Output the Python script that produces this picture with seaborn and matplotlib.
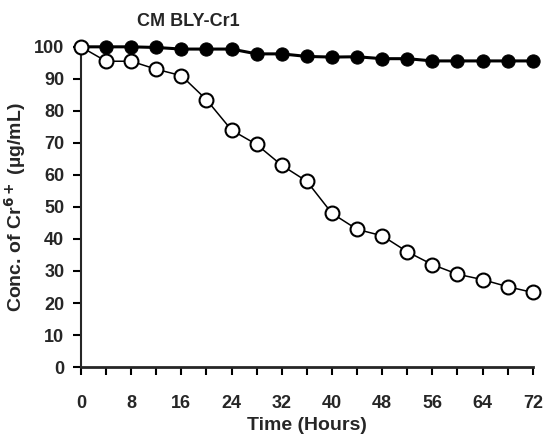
import matplotlib
matplotlib.use("Agg")
import matplotlib.pyplot as plt
from matplotlib.ticker import MultipleLocator
import seaborn as sns
import pandas as pd

# data
hours = [0, 4, 8, 12, 16, 20, 24, 28, 32, 36, 40, 44, 48, 52, 56, 60, 64, 68, 72]
control = [100, 100, 100, 99.8, 99.3, 99.3, 99.3, 97.8, 97.8, 97.0, 96.8, 96.9, 96.3, 96.3,
           95.6, 95.6, 95.6, 95.6, 95.6]
treated = [100, 95.5, 95.5, 93, 91, 83.5, 74, 69.5, 63, 58, 48, 43, 41, 36, 32, 29, 27.3,
           25.1, 23.3]
x_labels = ["0", "8", "16", "24", "32", "40", "48", "56", "64", "72"]

df = pd.DataFrame({"Hours": hours, "control": control, "treated": treated})

sns.set_style("ticks")
plt.rcParams["font.family"] = ["Liberation Sans", "DejaVu Sans"]
plt.rcParams["font.weight"] = "bold"

fig = plt.figure(figsize=(5.47, 4.46), dpi=100)
ax = fig.add_axes([0.148, 0.177, 0.826, 0.718])

sns.lineplot(data=df, x="Hours", y="control", ax=ax, color="black", linewidth=2.2,
             marker="o", markersize=9.5, markerfacecolor="black", markeredgecolor="black",
             clip_on=False, zorder=3)
sns.lineplot(data=df, x="Hours", y="treated", ax=ax, color="black", linewidth=1.1,
             marker="o", markersize=10, markerfacecolor="white", markeredgecolor="black",
             markeredgewidth=1.5, clip_on=False, zorder=4)

ax.set_xlim(0, 72)
ax.set_ylim(0, 100)
ax.set_xticks(range(0, 73, 8))
ax.set_xticklabels(x_labels)
ax.xaxis.set_minor_locator(MultipleLocator(4))
ax.set_yticks(range(0, 101, 10))
ax.tick_params(axis="both", which="both", direction="out", length=6, width=1.5,
               labelsize=13, color="black")
ax.tick_params(axis="x", pad=14)
ax.tick_params(axis="y", pad=6)
for lab in ax.get_xticklabels() + ax.get_yticklabels():
    lab.set_fontweight("bold")

sns.despine(ax=ax)
ax.spines["left"].set_linewidth(1.5)
ax.spines["bottom"].set_linewidth(2)
ax.spines["bottom"].set_bounds(0, 72)

ax.set_xlabel("Time (Hours)", fontsize=14, fontweight="bold", labelpad=4)
ax.set_ylabel(r"Conc. of Cr$^{\mathbf{6+}}$ (µg/mL)", fontsize=14, fontweight="bold",
              labelpad=4)
fig.text(0.345, 0.952, "CM BLY-Cr1", fontsize=13, fontweight="bold", ha="center",
         va="center")

fig.savefig("out.png", dpi=100)
